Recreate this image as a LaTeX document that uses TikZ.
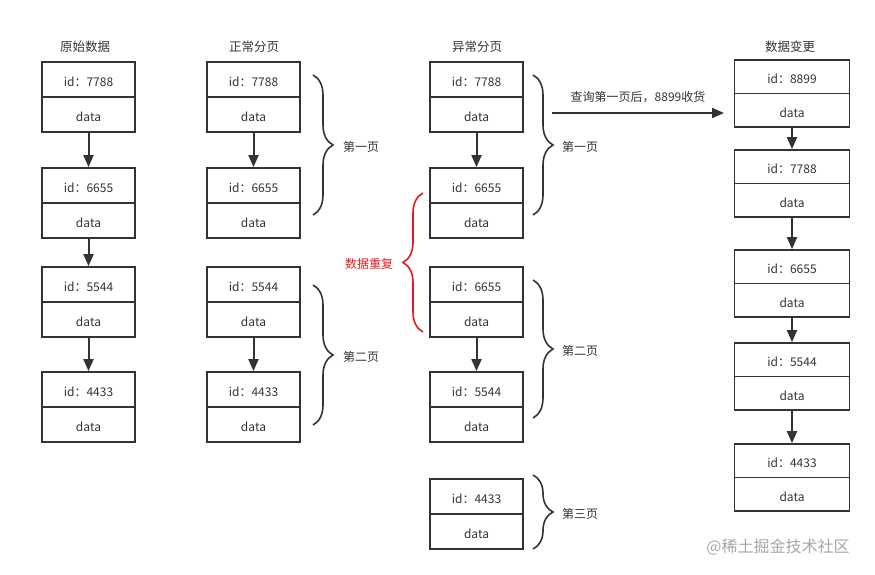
\documentclass[tikz,border=0pt]{standalone}
\usepackage{fontspec}
\setmainfont{Noto Sans CJK SC}
\usetikzlibrary{arrows.meta}
\usetikzlibrary{decorations.pathreplacing}
\definecolor{linegray}{HTML}{333333}
\definecolor{warnred}{HTML}{E41A1A}

\begin{document}
\begin{tikzpicture}[x=1pt,y=-1pt,
		cell/.style={draw=linegray, line width=1.8pt, minimum width=93pt, minimum height=35pt, inner sep=0pt, text height=14pt, text depth=0pt, font=\fontsize{12}{14}\selectfont, text=linegray},
		widecell/.style={cell, minimum width=115pt, minimum height=33.5pt},
		link/.style={-{Triangle[length=12pt,width=10pt]}, draw=linegray, line width=2pt},
		pagebrace/.style={decorate, decoration={brace, amplitude=20pt}, draw=linegray, line width=1.6pt},
		title/.style={font=\fontsize{12.5}{14}\selectfont, text=linegray},
		pagelabel/.style={font=\fontsize{12}{14}\selectfont, text=linegray}]
		\useasboundingbox (0,0) rectangle (875,575);

		% titles
		\node[title] (t1) at (85,47) {原始数据};
		\node[title] (t2) at (254,47) {正常分页};
		\node[title] (t3) at (477,47) {异常分页};
		\node[title] (t4) at (790,47) {数据变更};

		% original data
		\node[cell] (o1) at (88.5,79.5) {id：7788};
		\node[cell] (o1d) at (88.5,114.5) {data};
		\node[cell] (o2) at (88.5,185.5) {id：6655};
		\node[cell] (o2d) at (88.5,220.5) {data};
		\node[cell] (o3) at (88.5,284.5) {id：5544};
		\node[cell] (o3d) at (88.5,319.5) {data};
		\node[cell] (o4) at (88.5,389.5) {id：4433};
		\node[cell] (o4d) at (88.5,424.5) {data};

		\draw[link] (o1d) -- (o2);
		\draw[link] (o2d) -- (o3);
		\draw[link] (o3d) -- (o4);

		% normal paging
		\node[cell] (n1) at (253.5,79.5) {id：7788};
		\node[cell] (n1d) at (253.5,114.5) {data};
		\node[cell] (n2) at (253.5,185.5) {id：6655};
		\node[cell] (n2d) at (253.5,220.5) {data};
		\node[cell] (n3) at (253.5,284.5) {id：5544};
		\node[cell] (n3d) at (253.5,319.5) {data};
		\node[cell] (n4) at (253.5,389.5) {id：4433};
		\node[cell] (n4d) at (253.5,424.5) {data};

		\draw[link] (n1d) -- (n2);
		\draw[link] (n3d) -- (n4);

		\coordinate (nb1a) at (313,75);
		\coordinate (nb1b) at (313,215);
		\coordinate (nb2a) at (313,285);
		\coordinate (nb2b) at (313,425);
		\draw[pagebrace] (nb1a) -- (nb1b);
		\draw[pagebrace] (nb2a) -- (nb2b);
		\node[pagelabel] (np1) at (361,147) {第一页};
		\node[pagelabel] (np2) at (361,357) {第二页};

		% abnormal paging
		\node[cell] (e1) at (476.5,79.5) {id：7788};
		\node[cell] (e1d) at (476.5,114.5) {data};
		\node[cell] (e2) at (476.5,185.5) {id：6655};
		\node[cell] (e2d) at (476.5,220.5) {data};
		\node[cell] (e3) at (476.5,284.5) {id：6655};
		\node[cell] (e3d) at (476.5,319.5) {data};
		\node[cell] (e4) at (476.5,389.5) {id：5544};
		\node[cell] (e4d) at (476.5,424.5) {data};
		\node[cell] (e5) at (476.5,496.5) {id：4433};
		\node[cell] (e5d) at (476.5,531.5) {data};

		\draw[link] (e1d) -- (e2);
		\draw[link] (e3d) -- (e4);

		\coordinate (eb1a) at (533,75);
		\coordinate (eb1b) at (533,215);
		\coordinate (eb2a) at (533,280);
		\coordinate (eb2b) at (533,418);
		\coordinate (eb3a) at (533,475);
		\coordinate (eb3b) at (533,549);
		\draw[pagebrace] (eb1a) -- (eb1b);
		\draw[pagebrace] (eb2a) -- (eb2b);
		\draw[pagebrace] (eb3a) -- (eb3b);
		\node[pagelabel] (ep1) at (580,147) {第一页};
		\node[pagelabel] (ep2) at (580,351) {第二页};
		\node[pagelabel] (ep3) at (580,514) {第三页};

		% duplicated data
		\coordinate (rba) at (423,332);
		\coordinate (rbb) at (423,193);
		\draw[pagebrace, draw=warnred] (rba) -- (rbb);
		\node[pagelabel, text=warnred] (dup) at (369,264) {数据重复};

		% data change
		\node[widecell] (c1) at (792,76.75) {id：8899};
		\node[widecell] (c1d) at (792,110.25) {data};
		\node[widecell] (c2) at (792,166.75) {id：7788};
		\node[widecell] (c2d) at (792,200.25) {data};
		\node[widecell] (c3) at (792,266.75) {id：6655};
		\node[widecell] (c3d) at (792,300.25) {data};
		\node[widecell] (c4) at (792,359.75) {id：5544};
		\node[widecell] (c4d) at (792,393.25) {data};
		\node[widecell] (c5) at (792,460.75) {id：4433};
		\node[widecell] (c5d) at (792,494.25) {data};

		\draw[link] (c1d) -- (c2);
		\draw[link] (c2d) -- (c3);
		\draw[link] (c3d) -- (c4);
		\draw[link] (c4d) -- (c5);

		\coordinate (qa) at (552,113);
		\coordinate (qb) at (724,113);
		\draw[link] (qa) -- (qb);
		\node[pagelabel] (qlabel) at (638,97) {查询第一页后，8899收货};

		\node[font=\fontsize{16}{18}\selectfont, text=black!35] (mark) at (778,547) {@稀土掘金技术社区};
	\end{tikzpicture}
\end{document}
